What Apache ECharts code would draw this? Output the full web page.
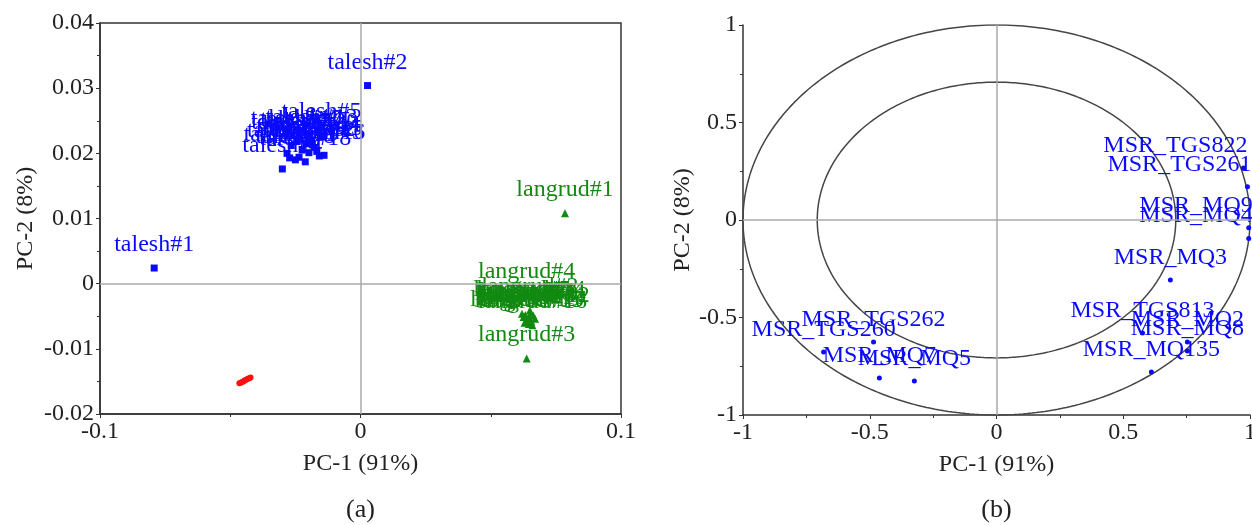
<!DOCTYPE html>
<html>
<head>
<meta charset="utf-8">
<script src="https://cdn.jsdelivr.net/npm/echarts@6/dist/echarts.min.js"></script>
<style>
  html, body { margin: 0; padding: 0; background: #ffffff; }
  #chart { width: 1252px; height: 525px; }
</style>
</head>
<body>
<div id="chart"></div>
<script>
// ---- (a) PCA scores: samples by origin ----
const taleshNames = ['talesh#1','talesh#2','talesh#3','talesh#4','talesh#5','talesh#6','talesh#7','talesh#8',
  'talesh#9','talesh#10','talesh#11','talesh#12','talesh#13','talesh#14','talesh#15','talesh#16','talesh#17','talesh#18',
  'talesh#19','talesh#20'];
const taleshPC1 = [-0.0792, 0.0027, -0.0140, -0.0300, -0.0150, -0.0282, -0.0266, -0.0250, -0.0236, -0.0224,
  -0.0210, -0.0198, -0.0188, -0.0177, -0.0168, -0.0158, -0.0245, -0.0212, -0.0272, -0.0185];
const taleshPC2 = [0.0024, 0.0304, 0.0197, 0.0176, 0.0228, 0.0200, 0.0212, 0.0190, 0.0194, 0.0205,
  0.0216, 0.0201, 0.0220, 0.0209, 0.0203, 0.0196, 0.0218, 0.0187, 0.0193, 0.0213];

const langrudNames = ['langrud#1','langrud#2','langrud#3','langrud#4','langrud#5','langrud#6','langrud#7','langrud#8',
  'langrud#9','langrud#10','langrud#11','langrud#12','langrud#13','langrud#14','langrud#15','langrud#16'];
const langrudPC1 = [0.0785, 0.0650, 0.0638, 0.0638, 0.0620, 0.0626, 0.0633, 0.0641, 0.0648, 0.0656,
  0.0663, 0.0670, 0.0646, 0.0654, 0.0630, 0.0660];
const langrudPC2 = [0.0108, -0.0041, -0.0115, -0.0018, -0.0046, -0.0051, -0.0048, -0.0055, -0.0052, -0.0058,
  -0.0049, -0.0054, -0.0062, -0.0045, -0.0060, -0.0064];

const redPC1 = [-0.0465, -0.0460, -0.0455, -0.0450, -0.0446, -0.0442, -0.0437, -0.0432, -0.0427, -0.0422];
const redPC2 = [-0.0153, -0.0152, -0.0151, -0.0150, -0.0149, -0.0148, -0.0147, -0.0146, -0.0145, -0.0144];

// ---- (b) PCA loadings: gas sensors ----
const sensorNames = ['MSR_TGS822','MSR_TGS261','MSR_MQ9','MSR_MQ4','MSR_MQ3','MSR_TGS813','MSR_MQ2','MSR_MQ8',
  'MSR_MQ135','MSR_TGS262','MSR_TGS260','MSR_MQ7','MSR_MQ5'];
const sensorPC1 = [0.974, 0.990, 0.995, 0.995, 0.686, 0.576, 0.753, 0.753, 0.611, -0.485, -0.682, -0.462, -0.324];
const sensorPC2 = [0.267, 0.170, -0.040, -0.095, -0.308, -0.579, -0.626, -0.672, -0.779, -0.626, -0.677, -0.810, -0.826];

// correlation circles (100% and 50% explained variance)
const circleRadii = [1, Math.SQRT1_2];

const FONT = "'Liberation Serif', 'Times New Roman', serif";
const BLUE = '#0a0aff', GREEN = '#128a12', RED = '#ff1010', AXIS = '#333333', ZERO = '#a8a8a8';

function zip(xs, ys, names) {
  return xs.map((x, i) => names ? { name: names[i], value: [x, ys[i]] } : [x, ys[i]]);
}

function circlePoints(r) {
  const pts = [];
  for (let k = 0; k <= 360; k++) {
    const a = k * Math.PI / 180;
    pts.push([r * Math.cos(a), r * Math.sin(a)]);
  }
  return pts;
}

function valueAxis(grid, min, max, interval, name, gap) {
  return {
    type: 'value', gridIndex: grid, min: min, max: max, interval: interval,
    name: name, nameLocation: 'middle', nameGap: gap,
    nameTextStyle: { fontFamily: FONT, fontSize: 24, color: '#222' },
    axisLine: { show: true, onZero: false, lineStyle: { color: AXIS, width: 1.5 } },
    axisTick: { show: true, inside: false, length: 4, lineStyle: { color: AXIS } },
    minorTick: { show: true, splitNumber: 2, length: 3, lineStyle: { color: AXIS } },
    splitLine: { show: false },
    axisLabel: { fontFamily: FONT, fontSize: 24, color: '#222', margin: 6,
      formatter: v => String(+v.toFixed(4)) }
  };
}

const labelStyle = (color, dist) => ({
  show: true, formatter: '{b}', position: 'top', distance: dist,
  fontFamily: FONT, fontSize: 24, color: color
});

// sensors sitting on the right rim get right-aligned labels so they stay in the plot
const sensorData = zip(sensorPC1, sensorPC2, sensorNames).map(d =>
  d.value[0] > 0.9 ? Object.assign(d, { label: { align: 'right', offset: [4, 0] } }) : d);

const chart = echarts.init(document.getElementById('chart'), null, { renderer: 'canvas' });

const option = {
  animation: false,
  backgroundColor: '#ffffff',
  grid: [
    { left: 100, right: 631, top: 23, bottom: 111, outerBoundsMode: 'none',
      show: true, borderColor: AXIS, borderWidth: 1.5 },
    { left: 743, right: 2, top: 25, bottom: 110, outerBoundsMode: 'none' }
  ],
  xAxis: [
    valueAxis(0, -0.1, 0.1, 0.1, 'PC-1 (91%)', 38),
    valueAxis(1, -1, 1, 0.5, 'PC-1 (91%)', 38)
  ],
  yAxis: [
    valueAxis(0, -0.02, 0.04, 0.01, 'PC-2 (8%)', 62),
    valueAxis(1, -1, 1, 0.5, 'PC-2 (8%)', 31)
  ],
  series: [
    {
      type: 'scatter', xAxisIndex: 0, yAxisIndex: 0, data: [], silent: true, z: 1,
      markLine: { silent: true, symbol: 'none', label: { show: false }, animation: false,
        lineStyle: { color: ZERO, width: 1.5, type: 'solid' },
        data: [{ xAxis: 0 }, { yAxis: 0 }] }
    },
    {
      type: 'scatter', xAxisIndex: 1, yAxisIndex: 1, data: [], silent: true, z: 1,
      markLine: { silent: true, symbol: 'none', label: { show: false }, animation: false,
        lineStyle: { color: ZERO, width: 1.5, type: 'solid' },
        data: [{ xAxis: 0 }, { yAxis: 0 }] }
    },
    ...circleRadii.map(r => ({
      type: 'line', xAxisIndex: 1, yAxisIndex: 1, data: circlePoints(r), showSymbol: false,
      silent: true, z: 2, lineStyle: { color: '#454545', width: 1.5 }
    })),
    {
      name: 'red', type: 'scatter', xAxisIndex: 0, yAxisIndex: 0, z: 3,
      symbol: 'circle', symbolSize: 6, itemStyle: { color: RED, opacity: 1 },
      data: zip(redPC1, redPC2)
    },
    {
      name: 'talesh', type: 'scatter', xAxisIndex: 0, yAxisIndex: 0, z: 3,
      symbol: 'rect', symbolSize: 7, itemStyle: { color: BLUE, opacity: 1 },
      label: labelStyle(BLUE, 7.5),
      data: zip(taleshPC1, taleshPC2, taleshNames)
    },
    {
      name: 'langrud', type: 'scatter', xAxisIndex: 0, yAxisIndex: 0, z: 3,
      symbol: 'triangle', symbolSize: 8, itemStyle: { color: GREEN, opacity: 1 },
      label: labelStyle(GREEN, 7.5),
      data: zip(langrudPC1, langrudPC2, langrudNames)
    },
    {
      name: 'sensors', type: 'scatter', xAxisIndex: 1, yAxisIndex: 1, z: 3,
      symbol: 'circle', symbolSize: 5, itemStyle: { color: BLUE, opacity: 1 },
      label: labelStyle(BLUE, 8),
      data: sensorData
    }
  ]
};

chart.setOption(option);

// panel captions centred under each plot
const capY = chart.getHeight() - 15;
chart.setOption({
  graphic: [
    { type: 'text', x: chart.convertToPixel({ xAxisIndex: 0 }, 0), y: capY,
      style: { text: '(a)', font: '26px ' + FONT, fill: '#222', align: 'center', verticalAlign: 'middle' } },
    { type: 'text', x: chart.convertToPixel({ xAxisIndex: 1 }, 0), y: capY,
      style: { text: '(b)', font: '26px ' + FONT, fill: '#222', align: 'center', verticalAlign: 'middle' } }
  ]
});
</script>
</body>
</html>
